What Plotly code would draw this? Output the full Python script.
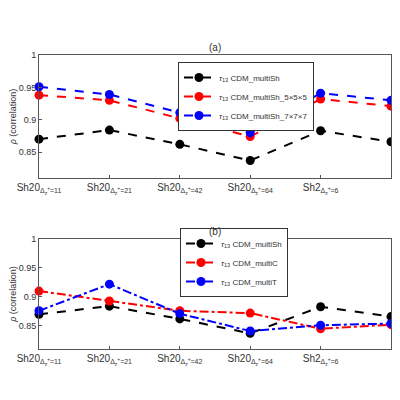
import plotly.graph_objects as go
from plotly.subplots import make_subplots

cases = ["11", "21", "42", "64", "6", "10"]
prefix = ["Sh20", "Sh20", "Sh20", "Sh20", "Sh2", "Sh5"]
tick_labels = [p + "<sub>Δ<sub>z</sub><sup>+</sup>=" + c + "</sub>" for p, c in zip(prefix, cases)]
xpos = list(range(6))

multi_sh = [0.870, 0.884, 0.862, 0.837, 0.883, 0.866]
multi_sh_5 = [0.938, 0.930, 0.902, 0.874, 0.932, 0.921]
multi_sh_7 = [0.951, 0.939, 0.911, 0.880, 0.941, 0.930]
multi_c = [0.910, 0.893, 0.876, 0.872, 0.845, 0.852]
multi_t = [0.876, 0.922, 0.871, 0.841, 0.851, 0.854]

tau = "<i>τ</i><sub>13</sub> "

fig = make_subplots(rows=2, cols=1)


def add(y, name, color, dash, row, legend):
    fig.add_trace(go.Scatter(x=xpos, y=y, name=tau + name, mode="lines+markers",
                             line=dict(color=color, dash=dash, width=2),
                             marker=dict(color=color, size=9),
                             legend=legend, cliponaxis=False), row=row, col=1)


add(multi_sh, "CDM_multiSh", "black", "dash", 1, "legend")
add(multi_sh_5, "CDM_multiSh_5×5×5", "red", "dash", 1, "legend")
add(multi_sh_7, "CDM_multiSh_7×7×7", "blue", "dash", 1, "legend")
add(multi_sh, "CDM_multiSh", "black", "dash", 2, "legend2")
add(multi_c, "CDM_multiC", "red", "dashdot", 2, "legend2")
add(multi_t, "CDM_multiT", "blue", "dashdot", 2, "legend2")

axis_style = dict(showline=True, mirror=True, linecolor="#555", linewidth=1,
                  showgrid=False, zeroline=False, ticks="inside", ticklen=3,
                  tickcolor="#555", automargin=False)
for r, dom in [(1, [0.575, 0.8825]), (2, [0.1475, 0.4225])]:
    fig.update_xaxes(axis_style, row=r, col=1, domain=[0.0775, 0.9575],
                     range=[0, 5], tickvals=xpos, ticktext=tick_labels,
                     tickfont=dict(size=10))
    fig.update_yaxes(axis_style, row=r, col=1, domain=dom, range=[0.81, 1],
                     tickvals=[0.85, 0.9, 0.95, 1], ticktext=["0.85", "0.9", "0.95", "1"],
                     tickfont=dict(size=9),
                     title=dict(text="<i>ρ</i> (correlation)", standoff=1, font=dict(size=9)))

legend_style = dict(bgcolor="white", bordercolor="#333", borderwidth=1,
                    font=dict(size=8), tracegroupgap=0, itemwidth=30)
fig.update_layout(
    width=400, height=400, margin=dict(l=0, r=0, t=0, b=0),
    plot_bgcolor="white", paper_bgcolor="white",
    font=dict(family="Liberation Sans, Arial", size=10, color="#333"),
    legend=dict(legend_style, x=0.425, y=0.865, xanchor="left", yanchor="top"),
    legend2=dict(legend_style, x=0.43, y=0.45, xanchor="left", yanchor="top"),
    annotations=[
        dict(text="(a)", x=0.5175, y=0.8825, xref="paper", yref="paper",
             showarrow=False, yanchor="bottom", font=dict(size=10)),
        dict(text="(b)", x=0.5175, y=0.4225, xref="paper", yref="paper",
             showarrow=False, yanchor="bottom", font=dict(size=10)),
    ],
)

fig.write_html("out.html")
